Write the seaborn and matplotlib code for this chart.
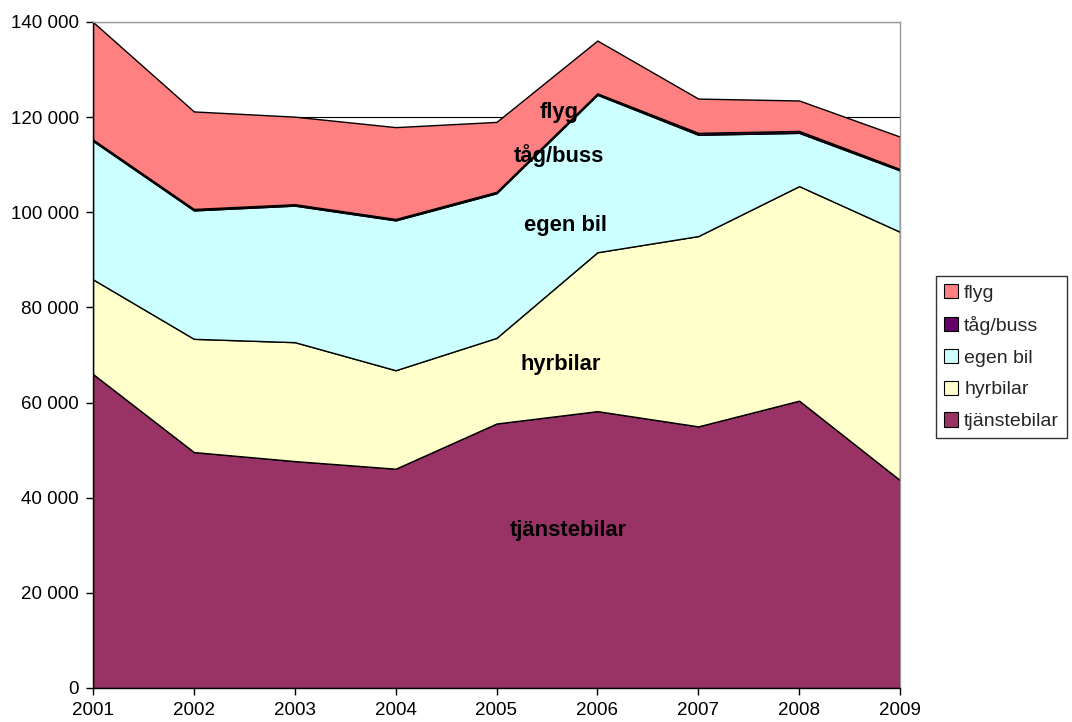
#!/usr/bin/env python3
"""Stacked area chart: travel volume per mode of transport, 2001-2009."""

import matplotlib
matplotlib.use("Agg")
import matplotlib.pyplot as plt
from matplotlib.patches import Patch
from matplotlib.ticker import FuncFormatter, MultipleLocator
import pandas as pd
import seaborn as sns


years = [2001, 2002, 2003, 2004, 2005, 2006, 2007, 2008, 2009]

tjanstebilar = [66000, 49600, 47700, 46100, 55600, 58200, 55000, 60400, 43700]
hyrbilar = [19900, 23800, 25000, 20700, 18000, 33400, 40000, 45100, 52200]
egen_bil = [29100, 27000, 28700, 31500, 30400, 33100, 21300, 11200, 12900]
tag_buss = [300, 300, 300, 300, 300, 300, 400, 400, 300]
flyg = [24700, 20500, 18400, 19300, 14700, 11100, 7200, 6400, 6800]

series_names = ["tjänstebilar", "hyrbilar", "egen bil", "tåg/buss", "flyg"]
series_colors = ["#993366", "#FFFFCC", "#CCFFFF", "#660066", "#FF8080"]

# inline label positions (year, value) for the bold area names
label_pos = {
    "flyg": (2005.62, 120900),
    "tåg/buss": (2005.62, 112000),
    "egen bil": (2005.68, 97300),
    "hyrbilar": (2005.64, 67900),
    "tjänstebilar": (2005.71, 33200),
}


def main() -> None:
    sns.set_theme(style="white")
    plt.rcParams["font.family"] = ["Liberation Sans", "DejaVu Sans"]

    df = pd.DataFrame({
        "år": years,
        "tjänstebilar": tjanstebilar,
        "hyrbilar": hyrbilar,
        "egen bil": egen_bil,
        "tåg/buss": tag_buss,
        "flyg": flyg,
    }).set_index("år")

    fig = plt.figure(figsize=(10.72, 7.22), dpi=100)
    ax = fig.add_axes([93 / 1072, 1 - 688 / 722, 807 / 1072, 666 / 722])

    ax.yaxis.set_major_locator(MultipleLocator(20000))
    ax.grid(axis="y", color="black", linewidth=0.8)
    ax.set_axisbelow(True)

    ax.stackplot(df.index, [df[c].to_numpy() for c in series_names],
                 colors=series_colors, edgecolor="black", linewidth=1.0,
                 zorder=2)

    ax.set_xlim(years[0], years[-1])
    ax.set_ylim(0, 140000)
    ax.set_xticks(years)
    ax.yaxis.set_major_formatter(FuncFormatter(lambda v, _: f"{int(v):,}".replace(",", " ")))
    ax.tick_params(axis="both", which="major", direction="out", length=5,
                   width=1, color="black", labelsize=13.5, labelcolor="black",
                   bottom=True, left=True)
    ax.tick_params(axis="x", pad=5)
    ax.tick_params(axis="y", pad=5)

    for side in ("left", "bottom"):
        ax.spines[side].set_color("black")
        ax.spines[side].set_linewidth(1.0)
    for side in ("top", "right"):
        ax.spines[side].set_color("#999999")
        ax.spines[side].set_linewidth(1.0)

    for name, (x, y) in label_pos.items():
        ax.text(x, y, name, ha="center", va="center", fontsize=15.8,
                fontweight="bold", color="black", zorder=5)

    handles = [Patch(facecolor=c, edgecolor="black", linewidth=0.8, label=n)
               for n, c in zip(series_names, series_colors)][::-1]
    leg = fig.legend(handles=handles, loc="upper left",
                     bbox_to_anchor=(936 / 1072, 1 - 276 / 722),
                     frameon=True, fancybox=False, fontsize=14,
                     handlelength=0.75, handleheight=0.75, handletextpad=0.3,
                     labelspacing=0.72, borderpad=0.4, borderaxespad=0)
    leg.get_frame().set_edgecolor("black")
    leg.get_frame().set_linewidth(1.0)

    fig.savefig("out.png", dpi=100)
    plt.close(fig)


if __name__ == "__main__":
    main()
